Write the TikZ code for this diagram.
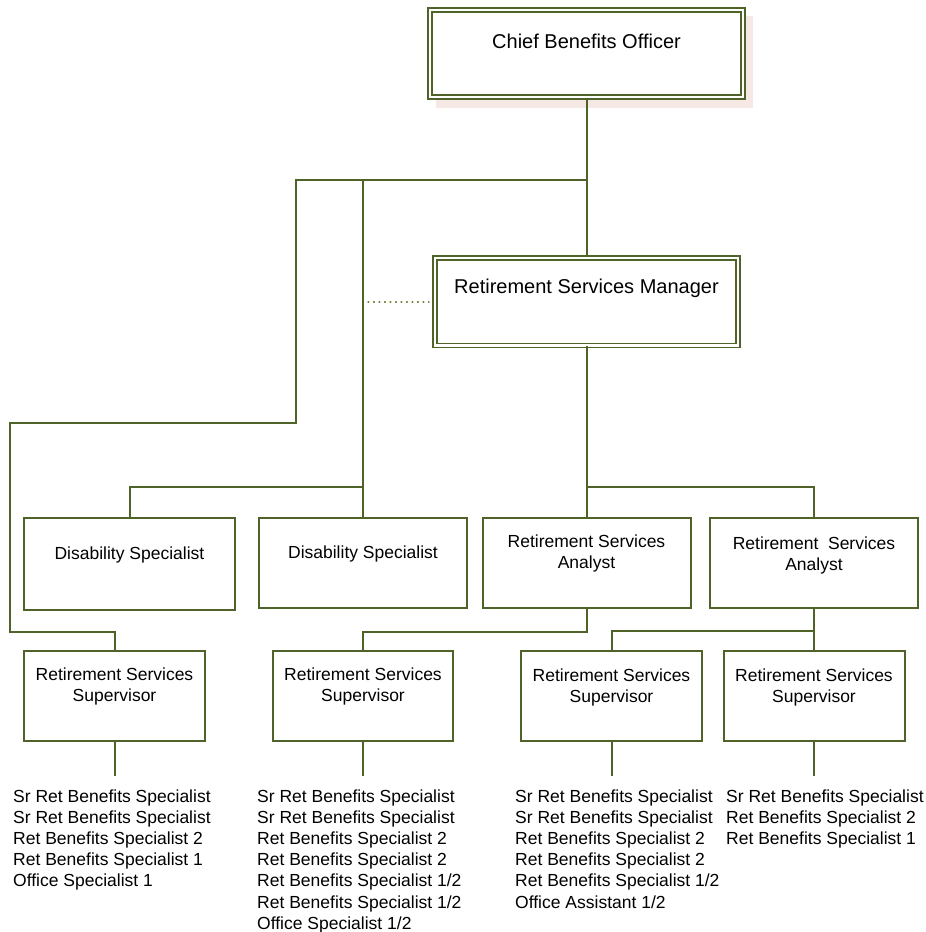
\documentclass[tikz,border=0pt]{standalone}
\usepackage{fontspec}
\setmainfont{Liberation Sans}
\definecolor{orgline}{RGB}{79,98,40}
\definecolor{dotcol}{RGB}{110,135,60}
\definecolor{shadowpink}{RGB}{246,232,228}
\newcommand\orgc[1]{\begin{tabular}[t]{@{}c@{}}#1\end{tabular}}
\newcommand\orgl[1]{\begin{tabular}[t]{@{}l@{}}#1\end{tabular}}
\begin{document}
\begin{tikzpicture}[x=1pt,y=-1pt,
  conn/.style={draw=orgline, line width=2pt},
  dotline/.style={draw=dotcol, line width=1.1pt, dash pattern=on 0.9pt off 4.6pt, line cap=round},
  box/.style={draw=orgline, line width=2pt, fill=white, rectangle, inner sep=0pt},
  dbox/.style={draw=orgline, line width=1.8pt, double=white, double distance=2.3pt, fill=white, rectangle, inner sep=0pt},
  big/.style={font=\fontsize{20}{24}\selectfont, inner sep=0pt, anchor=base, text=black},
  lbl/.style={font=\fontsize{17.5}{21}\selectfont, inner sep=0pt, anchor=base, text=black},
  lst/.style={font=\fontsize{17.5}{21.2}\selectfont, inner sep=0pt, anchor=base west, text=black}
]
\useasboundingbox (0,0) rectangle (926,932);

% shadow of top box
\fill[shadowpink] (436,16) rectangle (753,108);

% boxes
\node[dbox, minimum width=313pt, minimum height=87pt] (chief) at (586.5,53.25) {};
\node[dbox, minimum width=303pt, minimum height=87.5pt] (rsm) at (586.5,301.75) {};

\node[box, minimum width=211pt, minimum height=92pt] (ds1) at (129.5,564) {};
\node[box, minimum width=208pt, minimum height=90pt] (ds2) at (363,563) {};
\node[box, minimum width=208pt, minimum height=90pt] (rsa1) at (586.5,563) {};
\node[box, minimum width=208pt, minimum height=90pt] (rsa2) at (814,563) {};

\node[box, minimum width=181pt, minimum height=90pt] (rss1) at (114.5,696) {};
\node[box, minimum width=180pt, minimum height=90pt] (rss2) at (363,696) {};
\node[box, minimum width=181pt, minimum height=90pt] (rss3) at (611.5,696) {};
\node[box, minimum width=181pt, minimum height=90pt] (rss4) at (814,696) {};

% box texts
\node[big] (chieft) at (586.5,48) {Chief Benefits Officer};
\node[big] (rsmt) at (586.5,293) {Retirement Services Manager};
\node[lbl] (ds1t) at (129.5,559) {Disability Specialist};
\node[lbl] (ds2t) at (363,558.7) {Disability Specialist};
\node[lbl] (rsa1t) at (586.5,547.5) {\orgc{Retirement Services\\Analyst}};
\node[lbl] (rsa2t) at (814,549) {\orgc{Retirement\ \ Services\\Analyst}};
\node[lbl] (rss1t) at (114.5,680) {\orgc{Retirement Services\\Supervisor}};
\node[lbl] (rss2t) at (363,680) {\orgc{Retirement Services\\Supervisor}};
\node[lbl] (rss3t) at (611.5,681) {\orgc{Retirement Services\\Supervisor}};
\node[lbl] (rss4t) at (814,681) {\orgc{Retirement Services\\Supervisor}};

% coordinates
\coordinate (a1) at (296,180);
\coordinate (a2) at (10,423);
\coordinate (a3) at (10,632);
\coordinate (b0) at (363,180);
\coordinate (b1) at (363,487);
\coordinate (c1) at (586.5,487);
\coordinate (d0) at (368,302);
\coordinate (e1) at (114.5,776);
\coordinate (e2) at (363,776);
\coordinate (e3) at (611.5,776);
\coordinate (e4) at (814,776);

% connectors
\draw[conn] (chief.south) -- (rsm.north);
\draw[conn] (chief.south) |- (a1) |- (a2) -- (a3) -| (rss1.north);
\draw[conn] (b0) -- (ds2.north);
\draw[conn] (b1) -| (ds1.north);
\draw[conn] (rsm.south) -- (rsa1.north);
\draw[conn] (c1) -| (rsa2.north);
\draw[conn] (rsa1.south) -- ++(0,23) -| (rss2.north);
\draw[conn] (rsa2.south) -- (rss4.north);
\draw[conn] (rsa2.south) -- ++(0,22) -| (rss3.north);
\draw[dotline] (d0) -- ([xshift=-5pt]rsm.west |- d0);

\draw[conn] (rss1.south) -- (e1);
\draw[conn] (rss2.south) -- (e2);
\draw[conn] (rss3.south) -- (e3);
\draw[conn] (rss4.south) -- (e4);

% lists
\node[lst] (list1) at (13,802) {\orgl{Sr Ret Benefits Specialist\\Sr Ret Benefits Specialist\\Ret Benefits Specialist 2\\Ret Benefits Specialist 1\\Office Specialist 1}};
\node[lst] (list2) at (257,802) {\orgl{Sr Ret Benefits Specialist\\Sr Ret Benefits Specialist\\Ret Benefits Specialist 2\\Ret Benefits Specialist 2\\Ret Benefits Specialist 1/2\\Ret Benefits Specialist 1/2\\Office Specialist 1/2}};
\node[lst] (list3) at (515,802) {\orgl{Sr Ret Benefits Specialist\\Sr Ret Benefits Specialist\\Ret Benefits Specialist 2\\Ret Benefits Specialist 2\\Ret Benefits Specialist 1/2\\Office Assistant 1/2}};
\node[lst] (list4) at (726,802) {\orgl{Sr Ret Benefits Specialist\\Ret Benefits Specialist 2\\Ret Benefits Specialist 1}};
\end{tikzpicture}
\end{document}
